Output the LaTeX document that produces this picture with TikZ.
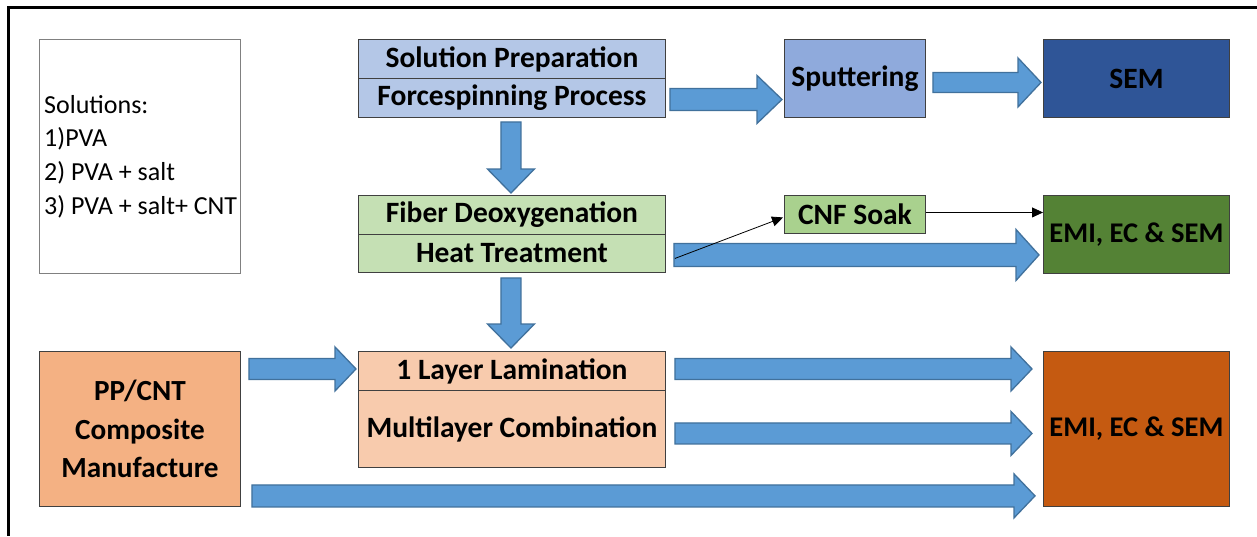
\documentclass[tikz,border=0pt]{standalone}
\usepackage{fontspec}
\setmainfont{Carlito}
\usetikzlibrary{calc,arrows.meta}
\definecolor{arrfill}{HTML}{5B9BD5}
\definecolor{arrline}{HTML}{41719C}
\definecolor{bordc}{HTML}{404040}
\definecolor{solc}{HTML}{B4C7E7}
\definecolor{sputc}{HTML}{8FAADC}
\definecolor{semc}{HTML}{2F5597}
\definecolor{fibc}{HTML}{C5E0B4}
\definecolor{cnfc}{HTML}{A9D18E}
\definecolor{emigc}{HTML}{548235}
\definecolor{lamc}{HTML}{F8CBAD}
\definecolor{ppc}{HTML}{F4B183}
\definecolor{emioc}{HTML}{C55A11}
\tikzset{
  box/.style={draw=bordc, line width=0.9pt, anchor=north west, inner sep=0pt,
    font=\fontsize{29.5}{34}\selectfont\bfseries, align=center},
  barrow/.style={fill=arrfill, draw=arrline, line width=1.3pt, line join=miter},
  thin/.style={draw=black, line width=0.8pt, -{Triangle[length=11pt,width=10pt]}}
}
\newcommand\hbarrow[5]{%
  \draw[barrow] let \p1=(#1), \p2=(#2) in
    (\x1,\y1+#3) -- (\x2-#5,\y1+#3) -- (\x2-#5,\y1+#4) -- (\x2,\y1)
    -- (\x2-#5,\y1-#4) -- (\x2-#5,\y1-#3) -- (\x1,\y1-#3) -- cycle;}
\newcommand\vbarrow[5]{%
  \draw[barrow] let \p1=(#1), \p2=(#2) in
    (\x1-#3,\y1) -- (\x1-#3,\y2+#5) -- (\x1-#4,\y2+#5) -- (\x1,\y2)
    -- (\x1+#4,\y2+#5) -- (\x1+#3,\y2+#5) -- (\x1+#3,\y1) -- cycle;}
\begin{document}
\begin{tikzpicture}[x=1pt,y=-1pt]
\useasboundingbox (0,0) rectangle (1257,536);
\fill[white] (0,0) rectangle (1257,536);
% frame
\draw[line width=3pt] (1257,7.5) -- (8.5,7.5) -- (8.5,536);

% solutions box
\node[draw=gray, line width=0.9pt, anchor=north west, inner sep=0pt,
  minimum width=201pt, minimum height=234pt] (solbox) at (39,39) {};
\node[anchor=west, align=left, inner sep=0pt,
  font=\fontsize{26}{33.6}\selectfont] (soltext) at (44,156.5)
  {Solutions:\\1)PVA\\2) PVA + salt\\3) PVA + salt+ CNT};

% top row
\node[box, fill=solc, minimum width=307pt, minimum height=39pt] (sol1) at (358,39) {Solution Preparation};
\node[box, fill=solc, minimum width=307pt, minimum height=39pt] (sol2) at (358,78) {Forcespinning Process};
\node[box, fill=sputc, minimum width=141pt, minimum height=78pt] (sput) at (784,39) {Sputtering};
\node[box, fill=semc, minimum width=186pt, minimum height=78pt] (sem) at (1043,39) {SEM};

% middle row
\node[box, fill=fibc, minimum width=307pt, minimum height=39pt] (fib1) at (358,195) {Fiber Deoxygenation};
\node[box, fill=fibc, minimum width=307pt, minimum height=38pt] (fib2) at (358,234) {Heat Treatment};
\node[box, fill=cnfc, minimum width=141pt, minimum height=38pt] (cnf) at (784,195) {CNF Soak};
\node[box, fill=emigc, minimum width=186pt, minimum height=78pt,
  font=\fontsize{28.5}{34}\selectfont\bfseries] (emi1) at (1043,195) {EMI, EC \& SEM};

% bottom row
\node[box, fill=ppc, minimum width=201pt, minimum height=155pt,
  font=\fontsize{29.2}{38.5}\selectfont\bfseries] (pp) at (39,351) {PP/CNT\\Composite\\Manufacture};
\node[box, fill=lamc, minimum width=307pt, minimum height=39pt] (lam1) at (358,351) {1 Layer Lamination};
\node[box, fill=lamc, minimum width=307pt, minimum height=77pt] (lam2) at (358,390) {Multilayer Combination};
\node[box, fill=emioc, minimum width=186pt, minimum height=155pt,
  font=\fontsize{28.5}{34}\selectfont\bfseries] (emi2) at (1043,351) {EMI, EC \& SEM};

% connector end points
\coordinate (a1s) at ($(sol2.east)+(4,1.5)$);
\coordinate (a1e) at ($(sput.west)+(-2,21)$);
\coordinate (a2s) at ($(sput.east)+(7,4)$);
\coordinate (a2e) at ($(sem.west)+(-2,4)$);
\coordinate (v1s) at ($(sol2.south)+(-1,4)$);
\coordinate (v1e) at ($(fib1.north)+(-1,-2)$);
\coordinate (v2s) at ($(fib2.south)+(-1,5)$);
\coordinate (v2e) at ($(lam1.north)+(-1,-3)$);
\coordinate (a3s) at ($(fib2.east)+(8,1.5)$);
\coordinate (a3e) at ($(emi1.west)+(-4,20.5)$);
\coordinate (t1s) at ($(fib2.east)+(9,5)$);
\coordinate (a4s) at ($(pp.east |- lam1.west)+(8,-2)$);
\coordinate (a4e) at ($(lam1.west)+(-2,-2)$);
\coordinate (a5s) at ($(lam1.east)+(9,-2)$);
\coordinate (a5e) at ($(emi2.west |- lam1.west)+(-11,-2)$);
\coordinate (a6s) at ($(lam2.east)+(9,4.5)$);
\coordinate (a6e) at ($(emi2.west |- lam2.east)+(-11,4.5)$);
\coordinate (a7s) at ($(pp.south east)+(11,-11)$);
\coordinate (a7e) at ($(emi2.south west)+(-8,-11)$);

% block arrows
\hbarrow{a1s}{a1e}{11pt}{24pt}{25pt}
\hbarrow{a2s}{a2e}{10pt}{24.5pt}{23pt}
\vbarrow{v1s}{v1e}{10pt}{23.5pt}{24pt}
\vbarrow{v2s}{v2e}{10pt}{23.5pt}{24pt}
\hbarrow{a3s}{a3e}{11.5pt}{25.5pt}{23pt}
\hbarrow{a4s}{a4e}{10.5pt}{22pt}{21pt}
\hbarrow{a5s}{a5e}{10.5pt}{22pt}{21pt}
\hbarrow{a6s}{a6e}{10.5pt}{22pt}{21pt}
\hbarrow{a7s}{a7e}{11pt}{22pt}{21pt}

% thin arrows
\draw[thin] (t1s) -- ($(cnf.west)+(-1,3)$);
\draw[thin] ($(cnf.east)+(0,-2)$) -- ($(emi1.west |- cnf.east)+(0,-2)$);
\end{tikzpicture}
\end{document}
